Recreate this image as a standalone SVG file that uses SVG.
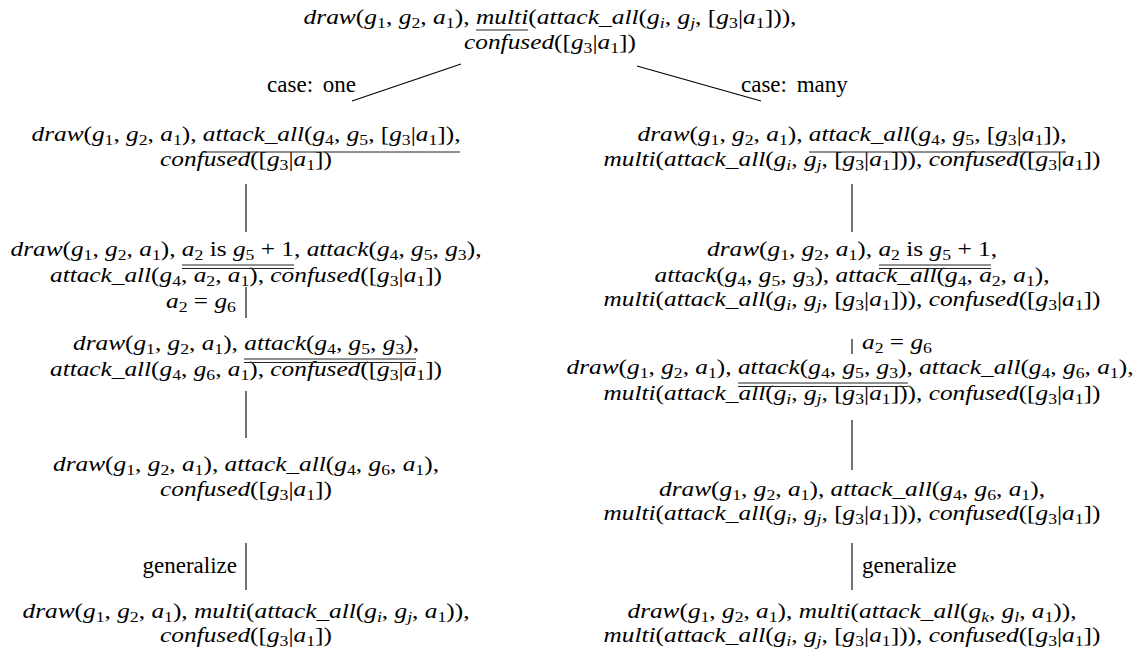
<svg xmlns="http://www.w3.org/2000/svg" width="1141" height="655" viewBox="0 0 1141 655">
<style>
.t{font-family:"Liberation Serif","Times New Roman",serif;font-size:22px;font-style:italic;fill:#000;text-anchor:middle}
.r{font-style:normal}
.s{font-size:15.4px;font-style:normal;baseline-shift:-3.5px}
.si{font-size:15.4px;font-style:italic;baseline-shift:-3.5px}
.lbl{font-family:"Liberation Serif","Times New Roman",serif;font-size:23px;fill:#000}
.e{stroke:#000;stroke-width:1.1;fill:none}
.u{stroke:#222;stroke-width:1;fill:none}
</style>
<rect width="1141" height="655" fill="#fff"/>
<g id="connectors">
<line class="e" x1="461" y1="64" x2="352" y2="101"/>
<line class="e" x1="637" y1="66" x2="761" y2="101"/>
<text class="lbl" x="356" y="92" text-anchor="end" word-spacing="4">case: one</text>
<text class="lbl" x="741" y="92" word-spacing="4">case: many</text>
<line class="e" x1="246" y1="184" x2="246" y2="232"/>
<line class="e" x1="246" y1="287" x2="246" y2="318"/>
<text class="t" x="236" y="308" style="text-anchor:end" textLength="70" lengthAdjust="spacingAndGlyphs">a<tspan class="s">2</tspan><tspan class="r"> = </tspan>g<tspan class="s">6</tspan></text>
<line class="e" x1="246" y1="391" x2="246" y2="438"/>
<line class="e" x1="246" y1="543" x2="246" y2="590"/>
<text class="lbl" x="237" y="573" text-anchor="end">generalize</text>
<line class="e" x1="852" y1="184" x2="852" y2="232"/>
<line class="e" x1="852" y1="339" x2="852" y2="354"/>
<text class="t" x="862" y="349" style="text-anchor:start" textLength="70" lengthAdjust="spacingAndGlyphs">a<tspan class="s">2</tspan><tspan class="r"> = </tspan>g<tspan class="s">6</tspan></text>
<line class="e" x1="852" y1="420" x2="852" y2="470"/>
<line class="e" x1="852" y1="543" x2="852" y2="590"/>
<text class="lbl" x="862" y="573">generalize</text>
</g>
<g id="root">
<text class="t" x="550" y="24" textLength="493" lengthAdjust="spacingAndGlyphs">draw<tspan class="r">(</tspan>g<tspan class="s">1</tspan><tspan class="r">, </tspan>g<tspan class="s">2</tspan><tspan class="r">, </tspan>a<tspan class="s">1</tspan><tspan class="r">), </tspan>multi<tspan class="r">(</tspan>attack_all<tspan class="r">(</tspan>g<tspan class="si">i</tspan><tspan class="r">, </tspan>g<tspan class="si">j</tspan><tspan class="r">, [</tspan>g<tspan class="s">3</tspan><tspan class="r">|</tspan>a<tspan class="s">1</tspan><tspan class="r">])),</tspan></text>
<text class="t" x="550" y="49" textLength="172" lengthAdjust="spacingAndGlyphs">confused<tspan class="r">([</tspan>g<tspan class="s">3</tspan><tspan class="r">|</tspan>a<tspan class="s">1</tspan><tspan class="r">])</tspan></text>
<line class="u" x1="476" y1="30" x2="528" y2="30"/>
</g>
<g id="left-1">
<text class="t" x="246" y="141" textLength="429" lengthAdjust="spacingAndGlyphs">draw<tspan class="r">(</tspan>g<tspan class="s">1</tspan><tspan class="r">, </tspan>g<tspan class="s">2</tspan><tspan class="r">, </tspan>a<tspan class="s">1</tspan><tspan class="r">), </tspan>attack_all<tspan class="r">(</tspan>g<tspan class="s">4</tspan><tspan class="r">, </tspan>g<tspan class="s">5</tspan><tspan class="r">, [</tspan>g<tspan class="s">3</tspan><tspan class="r">|</tspan>a<tspan class="s">1</tspan><tspan class="r">]),</tspan></text>
<text class="t" x="246" y="166" textLength="172" lengthAdjust="spacingAndGlyphs">confused<tspan class="r">([</tspan>g<tspan class="s">3</tspan><tspan class="r">|</tspan>a<tspan class="s">1</tspan><tspan class="r">])</tspan></text>
<line class="u" x1="203" y1="152" x2="460" y2="152"/>
</g>
<g id="left-2">
<text class="t" x="246" y="256" textLength="471" lengthAdjust="spacingAndGlyphs">draw<tspan class="r">(</tspan>g<tspan class="s">1</tspan><tspan class="r">, </tspan>g<tspan class="s">2</tspan><tspan class="r">, </tspan>a<tspan class="s">1</tspan><tspan class="r">), </tspan>a<tspan class="s">2</tspan><tspan class="r"> is </tspan>g<tspan class="s">5</tspan><tspan class="r"> + 1, </tspan>attack<tspan class="r">(</tspan>g<tspan class="s">4</tspan><tspan class="r">, </tspan>g<tspan class="s">5</tspan><tspan class="r">, </tspan>g<tspan class="s">3</tspan><tspan class="r">),</tspan></text>
<text class="t" x="246" y="282" textLength="392" lengthAdjust="spacingAndGlyphs">attack_all<tspan class="r">(</tspan>g<tspan class="s">4</tspan><tspan class="r">, </tspan>a<tspan class="s">2</tspan><tspan class="r">, </tspan>a<tspan class="s">1</tspan><tspan class="r">), </tspan>confused<tspan class="r">([</tspan>g<tspan class="s">3</tspan><tspan class="r">|</tspan>a<tspan class="s">1</tspan><tspan class="r">])</tspan></text>
<line class="u" x1="182" y1="265" x2="294" y2="265"/>
<line class="u" x1="182" y1="268.5" x2="294" y2="268.5"/>
</g>
<g id="left-3">
<text class="t" x="246" y="350" textLength="346" lengthAdjust="spacingAndGlyphs">draw<tspan class="r">(</tspan>g<tspan class="s">1</tspan><tspan class="r">, </tspan>g<tspan class="s">2</tspan><tspan class="r">, </tspan>a<tspan class="s">1</tspan><tspan class="r">), </tspan>attack<tspan class="r">(</tspan>g<tspan class="s">4</tspan><tspan class="r">, </tspan>g<tspan class="s">5</tspan><tspan class="r">, </tspan>g<tspan class="s">3</tspan><tspan class="r">),</tspan></text>
<text class="t" x="246" y="376" textLength="392" lengthAdjust="spacingAndGlyphs">attack_all<tspan class="r">(</tspan>g<tspan class="s">4</tspan><tspan class="r">, </tspan>g<tspan class="s">6</tspan><tspan class="r">, </tspan>a<tspan class="s">1</tspan><tspan class="r">), </tspan>confused<tspan class="r">([</tspan>g<tspan class="s">3</tspan><tspan class="r">|</tspan>a<tspan class="s">1</tspan><tspan class="r">])</tspan></text>
<line class="u" x1="244" y1="359" x2="416" y2="359"/>
<line class="u" x1="244" y1="362.5" x2="416" y2="362.5"/>
</g>
<g id="left-4">
<text class="t" x="246" y="471" textLength="386" lengthAdjust="spacingAndGlyphs">draw<tspan class="r">(</tspan>g<tspan class="s">1</tspan><tspan class="r">, </tspan>g<tspan class="s">2</tspan><tspan class="r">, </tspan>a<tspan class="s">1</tspan><tspan class="r">), </tspan>attack_all<tspan class="r">(</tspan>g<tspan class="s">4</tspan><tspan class="r">, </tspan>g<tspan class="s">6</tspan><tspan class="r">, </tspan>a<tspan class="s">1</tspan><tspan class="r">),</tspan></text>
<text class="t" x="246" y="496" textLength="172" lengthAdjust="spacingAndGlyphs">confused<tspan class="r">([</tspan>g<tspan class="s">3</tspan><tspan class="r">|</tspan>a<tspan class="s">1</tspan><tspan class="r">])</tspan></text>
</g>
<g id="left-5">
<text class="t" x="246" y="618" textLength="447" lengthAdjust="spacingAndGlyphs">draw<tspan class="r">(</tspan>g<tspan class="s">1</tspan><tspan class="r">, </tspan>g<tspan class="s">2</tspan><tspan class="r">, </tspan>a<tspan class="s">1</tspan><tspan class="r">), </tspan>multi<tspan class="r">(</tspan>attack_all<tspan class="r">(</tspan>g<tspan class="si">i</tspan><tspan class="r">, </tspan>g<tspan class="si">j</tspan><tspan class="r">, </tspan>a<tspan class="s">1</tspan><tspan class="r">)),</tspan></text>
<text class="t" x="246" y="642" textLength="172" lengthAdjust="spacingAndGlyphs">confused<tspan class="r">([</tspan>g<tspan class="s">3</tspan><tspan class="r">|</tspan>a<tspan class="s">1</tspan><tspan class="r">])</tspan></text>
</g>
<g id="right-1">
<text class="t" x="852" y="141" textLength="429" lengthAdjust="spacingAndGlyphs">draw<tspan class="r">(</tspan>g<tspan class="s">1</tspan><tspan class="r">, </tspan>g<tspan class="s">2</tspan><tspan class="r">, </tspan>a<tspan class="s">1</tspan><tspan class="r">), </tspan>attack_all<tspan class="r">(</tspan>g<tspan class="s">4</tspan><tspan class="r">, </tspan>g<tspan class="s">5</tspan><tspan class="r">, [</tspan>g<tspan class="s">3</tspan><tspan class="r">|</tspan>a<tspan class="s">1</tspan><tspan class="r">]),</tspan></text>
<text class="t" x="852" y="166" textLength="497" lengthAdjust="spacingAndGlyphs">multi<tspan class="r">(</tspan>attack_all<tspan class="r">(</tspan>g<tspan class="si">i</tspan><tspan class="r">, </tspan>g<tspan class="si">j</tspan><tspan class="r">, [</tspan>g<tspan class="s">3</tspan><tspan class="r">|</tspan>a<tspan class="s">1</tspan><tspan class="r">])), </tspan>confused<tspan class="r">([</tspan>g<tspan class="s">3</tspan><tspan class="r">|</tspan>a<tspan class="s">1</tspan><tspan class="r">])</tspan></text>
<line class="u" x1="809" y1="152" x2="1066" y2="152"/>
</g>
<g id="right-2">
<text class="t" x="852" y="256" textLength="290" lengthAdjust="spacingAndGlyphs">draw<tspan class="r">(</tspan>g<tspan class="s">1</tspan><tspan class="r">, </tspan>g<tspan class="s">2</tspan><tspan class="r">, </tspan>a<tspan class="s">1</tspan><tspan class="r">), </tspan>a<tspan class="s">2</tspan><tspan class="r"> is </tspan>g<tspan class="s">5</tspan><tspan class="r"> + 1,</tspan></text>
<text class="t" x="852" y="282" textLength="395" lengthAdjust="spacingAndGlyphs">attack<tspan class="r">(</tspan>g<tspan class="s">4</tspan><tspan class="r">, </tspan>g<tspan class="s">5</tspan><tspan class="r">, </tspan>g<tspan class="s">3</tspan><tspan class="r">), </tspan>attack_all<tspan class="r">(</tspan>g<tspan class="s">4</tspan><tspan class="r">, </tspan>a<tspan class="s">2</tspan><tspan class="r">, </tspan>a<tspan class="s">1</tspan><tspan class="r">),</tspan></text>
<text class="t" x="852" y="306" textLength="497" lengthAdjust="spacingAndGlyphs">multi<tspan class="r">(</tspan>attack_all<tspan class="r">(</tspan>g<tspan class="si">i</tspan><tspan class="r">, </tspan>g<tspan class="si">j</tspan><tspan class="r">, [</tspan>g<tspan class="s">3</tspan><tspan class="r">|</tspan>a<tspan class="s">1</tspan><tspan class="r">])), </tspan>confused<tspan class="r">([</tspan>g<tspan class="s">3</tspan><tspan class="r">|</tspan>a<tspan class="s">1</tspan><tspan class="r">])</tspan></text>
<line class="u" x1="879" y1="265" x2="991" y2="265"/>
<line class="u" x1="879" y1="268.5" x2="991" y2="268.5"/>
</g>
<g id="right-3">
<text class="t" x="850" y="374" textLength="567" lengthAdjust="spacingAndGlyphs">draw<tspan class="r">(</tspan>g<tspan class="s">1</tspan><tspan class="r">, </tspan>g<tspan class="s">2</tspan><tspan class="r">, </tspan>a<tspan class="s">1</tspan><tspan class="r">), </tspan>attack<tspan class="r">(</tspan>g<tspan class="s">4</tspan><tspan class="r">, </tspan>g<tspan class="s">5</tspan><tspan class="r">, </tspan>g<tspan class="s">3</tspan><tspan class="r">), </tspan>attack_all<tspan class="r">(</tspan>g<tspan class="s">4</tspan><tspan class="r">, </tspan>g<tspan class="s">6</tspan><tspan class="r">, </tspan>a<tspan class="s">1</tspan><tspan class="r">),</tspan></text>
<text class="t" x="852" y="400" textLength="497" lengthAdjust="spacingAndGlyphs">multi<tspan class="r">(</tspan>attack_all<tspan class="r">(</tspan>g<tspan class="si">i</tspan><tspan class="r">, </tspan>g<tspan class="si">j</tspan><tspan class="r">, [</tspan>g<tspan class="s">3</tspan><tspan class="r">|</tspan>a<tspan class="s">1</tspan><tspan class="r">])), </tspan>confused<tspan class="r">([</tspan>g<tspan class="s">3</tspan><tspan class="r">|</tspan>a<tspan class="s">1</tspan><tspan class="r">])</tspan></text>
<line class="u" x1="738" y1="383" x2="908" y2="383"/>
<line class="u" x1="738" y1="386.5" x2="908" y2="386.5"/>
</g>
<g id="right-4">
<text class="t" x="852" y="496" textLength="386" lengthAdjust="spacingAndGlyphs">draw<tspan class="r">(</tspan>g<tspan class="s">1</tspan><tspan class="r">, </tspan>g<tspan class="s">2</tspan><tspan class="r">, </tspan>a<tspan class="s">1</tspan><tspan class="r">), </tspan>attack_all<tspan class="r">(</tspan>g<tspan class="s">4</tspan><tspan class="r">, </tspan>g<tspan class="s">6</tspan><tspan class="r">, </tspan>a<tspan class="s">1</tspan><tspan class="r">),</tspan></text>
<text class="t" x="852" y="520" textLength="497" lengthAdjust="spacingAndGlyphs">multi<tspan class="r">(</tspan>attack_all<tspan class="r">(</tspan>g<tspan class="si">i</tspan><tspan class="r">, </tspan>g<tspan class="si">j</tspan><tspan class="r">, [</tspan>g<tspan class="s">3</tspan><tspan class="r">|</tspan>a<tspan class="s">1</tspan><tspan class="r">])), </tspan>confused<tspan class="r">([</tspan>g<tspan class="s">3</tspan><tspan class="r">|</tspan>a<tspan class="s">1</tspan><tspan class="r">])</tspan></text>
</g>
<g id="right-5">
<text class="t" x="852" y="618" textLength="449" lengthAdjust="spacingAndGlyphs">draw<tspan class="r">(</tspan>g<tspan class="s">1</tspan><tspan class="r">, </tspan>g<tspan class="s">2</tspan><tspan class="r">, </tspan>a<tspan class="s">1</tspan><tspan class="r">), </tspan>multi<tspan class="r">(</tspan>attack_all<tspan class="r">(</tspan>g<tspan class="si">k</tspan><tspan class="r">, </tspan>g<tspan class="si">l</tspan><tspan class="r">, </tspan>a<tspan class="s">1</tspan><tspan class="r">)),</tspan></text>
<text class="t" x="852" y="642" textLength="497" lengthAdjust="spacingAndGlyphs">multi<tspan class="r">(</tspan>attack_all<tspan class="r">(</tspan>g<tspan class="si">i</tspan><tspan class="r">, </tspan>g<tspan class="si">j</tspan><tspan class="r">, [</tspan>g<tspan class="s">3</tspan><tspan class="r">|</tspan>a<tspan class="s">1</tspan><tspan class="r">])), </tspan>confused<tspan class="r">([</tspan>g<tspan class="s">3</tspan><tspan class="r">|</tspan>a<tspan class="s">1</tspan><tspan class="r">])</tspan></text>
</g>
</svg>
